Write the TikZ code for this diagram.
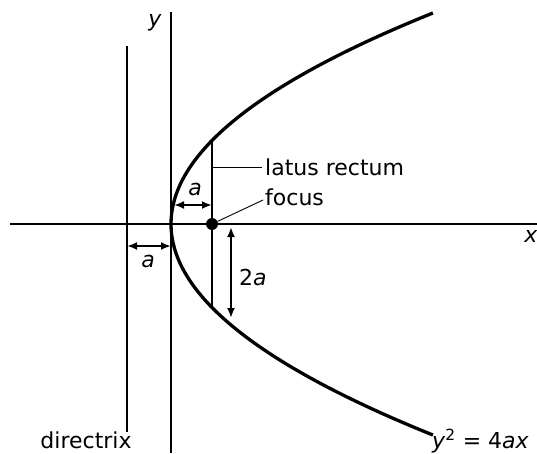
\documentclass[tikz,border=0pt]{standalone}
\usepackage{fontspec}
\setmainfont{DejaVu Sans}
\usetikzlibrary{arrows.meta}
\begin{document}
\begin{tikzpicture}[x=1pt,y=-1pt,
  axisline/.style={line width=2.8pt},
  curveline/.style={line width=3.3pt},
  fineline/.style={line width=1.2pt},
  leader/.style={line width=0.9pt},
  dim/.style={line width=2pt,{Latex[length=10pt,width=8pt]}-{Latex[length=10pt,width=8pt]}},
  lbl/.style={font=\fontsize{22}{24}\selectfont, inner sep=0pt},
]
\useasboundingbox (0,0) rectangle (537,453);
% axes
\coordinate (xl) at (10,224);
\coordinate (xr) at (537,224);
\coordinate (yt) at (171,12);
\coordinate (yb) at (171,453);
\draw[axisline] (xl) -- (xr);
\draw[axisline] (yt) -- (yb);
% directrix
\coordinate (dt) at (127,46);
\coordinate (db) at (127,432);
\draw[fineline] (dt) -- (db);
% parabola
\draw[curveline] plot[domain=-211:211, samples=120, smooth] ({171+(\x/10)*(\x/10)/1.7},{224+\x});
% latus rectum
\coordinate (LRtop) at (212,140.5);
\coordinate (LRbot) at (212,307.5);
\draw[fineline] (LRtop) -- (LRbot);
% focus
\node[circle, fill, inner sep=0pt, minimum size=12pt] (F) at (212,224) {};
% labels and leaders
\coordinate (lrl) at (262,167);
\coordinate (lrs) at (212,167);
\draw[leader] (lrs) -- (lrl);
\node[lbl, anchor=west] (tlr) at (265,167) {latus rectum};
\coordinate (fl) at (263,200);
\draw[leader] (F) -- (fl);
\node[lbl, anchor=west] (tf) at (265,197) {focus};
% a (vertex to focus)
\coordinate (a1l) at (174,205);
\coordinate (a1r) at (212,205);
\draw[dim] (a1l) -- (a1r);
\node[lbl] (ta1) at (195,189) {\textit{a}};
% a (directrix to vertex)
\coordinate (a2l) at (127,246);
\coordinate (a2r) at (171,246);
\draw[dim] (a2l) -- (a2r);
\node[lbl] (ta2) at (148,261) {\textit{a}};
% 2a
\coordinate (b1) at (231,227);
\coordinate (b2) at (231,318);
\draw[dim] (b1) -- (b2);
\node[lbl, anchor=west] (t2a) at (239,277) {2\textit{a}};
% axis labels
\node[lbl] (ty) at (155,23) {\textit{y}};
\node[lbl] (tx) at (531,236) {\textit{x}};
\node[lbl] (td) at (86,440) {directrix};
\node[lbl, anchor=west] (teq) at (432,441) {\textit{y}\textsuperscript{2} = 4\textit{ax}};
\end{tikzpicture}
\end{document}
